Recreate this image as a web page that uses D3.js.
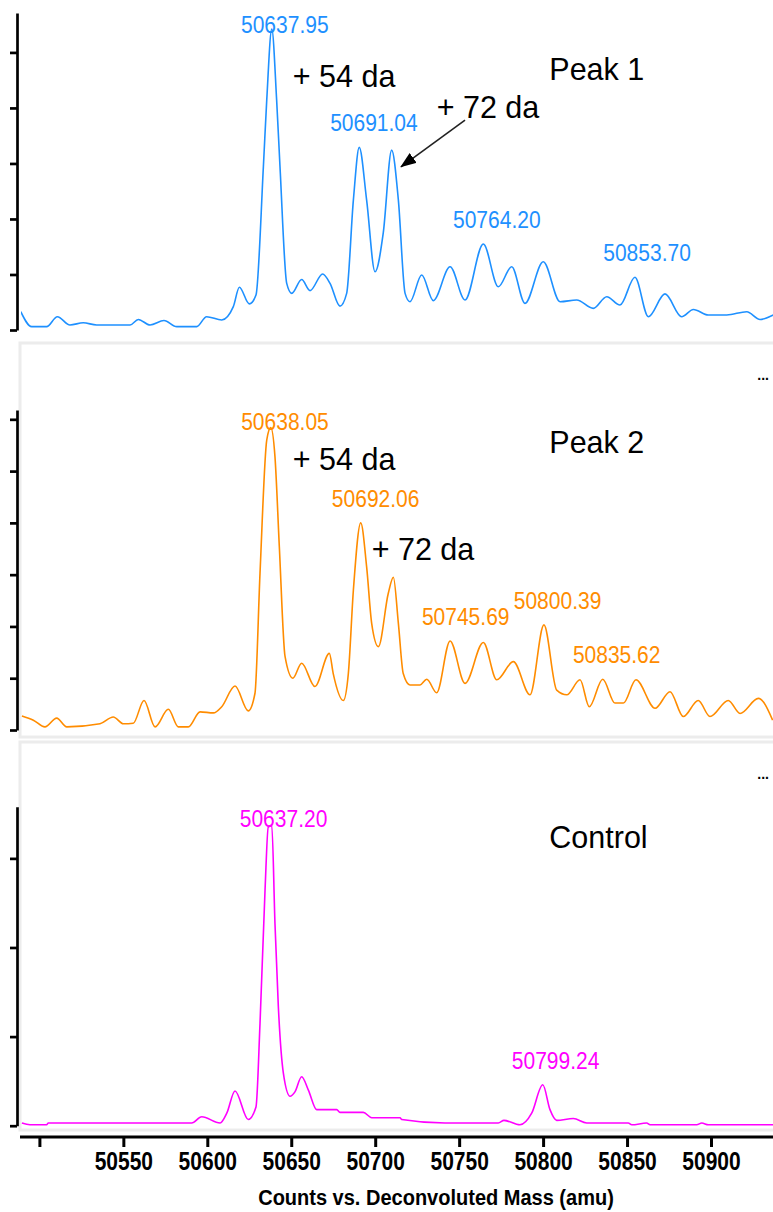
<!DOCTYPE html>
<html>
<head>
<meta charset="utf-8">
<script src="https://cdn.jsdelivr.net/npm/d3@7"></script>
<style>
  body { margin: 0; background: #fff; }
  text { font-family: "Liberation Sans", Arial, sans-serif; }
</style>
</head>
<body>
<div id="graph"></div>
<script>
// ---- data (mass in amu, intensity in tick units) ----
var peak1Mass = [50488.9,50495.4,50504.3,50510.7,50518.2,50526.1,50534.1,50554.0,50558.9,50565.9,50574.2,50581.8,50593.7,50599.6,50608.6,50615.5,50619.1,50625.0,50629.0,50633.4,50635.4,50638.4,50641.3,50643.3,50647.3,50650.3,50656.2,50661.2,50668.7,50673.1,50679.0,50683.0,50687.0,50690.5,50694.9,50699.9,50704.8,50709.8,50713.8,50717.8,50720.7,50727.7,50734.6,50744.6,50753.5,50764.4,50773.3,50781.3,50789.2,50800.1,50810.1,50820.0,50829.9,50837.9,50845.8,50854.7,50862.7,50872.6,50882.5,50889.5,50898.4,50909.4,50921.3,50929.2,50937.1];
var peak1Int  = [0.33,0.06,0.06,0.24,0.09,0.13,0.09,0.09,0.19,0.09,0.17,0.06,0.06,0.24,0.18,0.42,0.77,0.47,0.63,2.94,4.14,5.42,4.14,2.94,0.84,0.66,0.91,0.71,1.01,0.84,0.43,0.66,2.34,3.29,2.34,1.05,1.75,3.24,2.34,0.66,0.51,0.99,0.53,1.14,0.54,1.55,0.78,1.14,0.48,1.23,0.51,0.54,0.39,0.60,0.45,0.95,0.24,0.65,0.24,0.37,0.27,0.27,0.33,0.19,0.27];

var peak2Mass = [50489.6,50496.4,50503.3,50510.3,50516.3,50536.1,50544.0,50550.0,50555.9,50562.3,50568.9,50576.8,50582.7,50588.7,50595.7,50603.6,50608.6,50616.5,50624.4,50628.4,50631.4,50635.4,50637.8,50640.3,50642.9,50646.3,50650.9,50656.2,50664.1,50672.7,50675.0,50681.0,50684.0,50687.0,50691.4,50694.9,50697.9,50701.9,50707.8,50710.8,50713.8,50716.7,50720.7,50726.7,50730.7,50736.6,50744.6,50753.5,50764.4,50772.4,50782.3,50792.2,50800.5,50808.1,50814.1,50822.0,50827.5,50835.5,50842.8,50847.8,50855.3,50866.7,50875.6,50883.5,50892.4,50899.4,50910.3,50917.3,50928.2,50936.7];
var peak2Int  = [0.27,0.19,0.06,0.23,0.06,0.12,0.25,0.12,0.13,0.57,0.06,0.40,0.06,0.06,0.35,0.33,0.45,0.85,0.37,0.71,3.03,5.60,5.84,5.28,3.54,1.42,1.00,1.29,0.84,1.48,1.09,0.57,1.09,2.70,4.00,3.15,2.06,1.61,2.64,2.95,2.06,1.09,0.87,0.87,0.98,0.72,1.72,0.90,1.69,0.97,1.32,0.68,2.03,0.77,0.68,0.97,0.45,0.98,0.52,0.52,0.97,0.42,0.74,0.26,0.57,0.26,0.57,0.32,0.61,0.19];

var controlMass = [50489.6,50494.4,50504.3,50505.3,50590.7,50596.7,50607.6,50611.6,50616.5,50624.4,50629.0,50631.4,50634.4,50636.3,50638.4,50640.3,50642.3,50645.3,50649.3,50652.2,50656.2,50660.2,50665.2,50677.1,50679.0,50692.9,50697.9,50714.8,50715.8,50741.6,50773.3,50776.7,50786.2,50793.2,50799.8,50804.1,50808.1,50818.0,50826.0,50850.7,50852.8,50861.7,50863.7,50891.5,50894.5,50898.4,50937.1];
var controlInt  = [0.03,0.01,0.01,0.03,0.03,0.10,0.03,0.14,0.39,0.07,0.21,1.15,2.65,3.35,3.37,2.27,1.34,0.59,0.33,0.38,0.55,0.40,0.18,0.18,0.15,0.15,0.09,0.09,0.07,0.03,0.03,0.06,0.01,0.14,0.46,0.18,0.06,0.08,0.03,0.03,0.01,0.03,0.01,0.01,0.03,0.01,0.01];

var peak1Labels = ["50637.95", "50691.04", "50764.20", "50853.70"];
var peak2Labels = ["50638.05", "50692.06", "50745.69", "50800.39", "50835.62"];
var controlLabels = ["50637.20", "50799.24"];

var massTicks = [50500, 50550, 50600, 50650, 50700, 50750, 50800, 50850, 50900];

// annotations: [text, mass, intensity]
var peak1Notes = [["+ 54 da", 50650.9, 4.38], ["+ 72 da", 50736.6, 3.81], ["Peak 1", 50803.7, 4.50]];
var peak2Notes = [["+ 54 da", 50650.9, 5.03], ["+ 72 da", 50697.9, 3.28], ["Peak 2", 50803.7, 5.34]];
var controlNotes = [["Control", 50803.7, 3.12]];

// arrow in Peak 1 panel: [fromMass, fromInt, toMass, toInt]
var peak1Arrow = [50753.5, 3.78, 50715.4, 2.94];

var width = 773, height = 1212;

// stretch text vertically: measure at base size, then enlarge and squeeze back to that width
function tallText(sel, baseSize, bigSize) {
  sel.each(function() {
    var t = d3.select(this).style('font-size', baseSize + 'px');
    var w = this.getComputedTextLength();
    t.style('font-size', bigSize + 'px')
      .attr('textLength', w)
      .attr('lengthAdjust', 'spacingAndGlyphs');
  });
}

var svg = d3.select('#graph').html('')
  .append('svg')
    .attr('width', width)
    .attr('height', height);

svg.append('defs').append('marker')
    .attr('id', 'arrowhead')
    .attr('markerUnits', 'userSpaceOnUse')
    .attr('viewBox', '0 0 16 12')
    .attr('refX', 15).attr('refY', 6)
    .attr('markerWidth', 16).attr('markerHeight', 12)
    .attr('orient', 'auto')
  .append('path')
    .attr('d', 'M0,0 L16,6 L0,12 Z')
    .attr('fill', '#000');

svg.select('defs').append('clipPath').attr('id', 'plotclip')
  .append('rect').attr('x', 21).attr('y', 0).attr('width', 752).attr('height', height);

var x = d3.scaleLinear().domain([50500, 50900]).range([39.4, 711]);

var panels = [
  {mass: peak1Mass, inten: peak1Int, labels: peak1Labels, notes: peak1Notes, color: '#1e90ff',
   top: 13, bottom: 330, yMax: 5.71, frame: null},
  {mass: peak2Mass, inten: peak2Int, labels: peak2Labels, notes: peak2Notes, color: '#ff8c00',
   top: 410, bottom: 730, yMax: 6.18, frame: [343, 737]},
  {mass: controlMass, inten: controlInt, labels: controlLabels, notes: controlNotes, color: '#ff00ff',
   top: 806.7, bottom: 1125.7, yMax: 3.58, frame: [742, 1130]}
];

panels.forEach(function(p, i) {
  var g = svg.append('g');
  var y = d3.scaleLinear().domain([0, p.yMax]).range([p.bottom, p.top]);

  // light grey panel frame
  if (p.frame) {
    g.append('rect')
      .attr('x', 20).attr('y', p.frame[0])
      .attr('width', 770).attr('height', p.frame[1] - p.frame[0])
      .attr('fill', 'none').attr('stroke', '#ececec').attr('stroke-width', 3);
    g.append('text')
      .attr('x', 769).attr('y', p.frame[0] + 37)
      .attr('text-anchor', 'end')
      .style('font-size', '14px')
      .style('font-weight', 'bold')
      .text('...');
  }

  // y axis (no labels)
  var yAxis = g.append('g')
    .attr('transform', 'translate(17,0)')
    .call(d3.axisLeft(y).tickValues(d3.range(0, Math.floor(p.yMax) + 1)).tickSize(7).tickSizeOuter(0).tickFormat(''));
  yAxis.select('.domain').attr('stroke', '#000').attr('stroke-width', 2.7);
  yAxis.selectAll('.tick line').attr('stroke', '#000').attr('stroke-width', 2.7);

  // spectrum
  var pts = p.mass.map(function(m, k){ return [m, p.inten[k]]; });
  var line = d3.line()
    .x(function(d){ return x(d[0]); })
    .y(function(d){ return y(d[1]); })
    .curve(d3.curveMonotoneX);
  g.append('path')
    .datum(pts)
    .attr('clip-path', 'url(#plotclip)')
    .attr('d', line)
    .attr('fill', 'none')
    .attr('stroke', p.color)
    .attr('stroke-width', 1.6)
    .attr('stroke-linejoin', 'round');

  // peak mass labels
  g.selectAll('text.peaklabel')
    .data(p.labels)
    .enter()
    .append('text')
      .attr('class', 'peaklabel')
      .attr('x', function(d){ return x(+d) - 30; })
      .attr('y', function(d){
        var top = d3.max(pts.filter(function(q){ return Math.abs(q[0] - d) <= 3; }), function(q){ return q[1]; });
        return Math.max(y(top) - 16, p.top + 20);
      })
      .attr('fill', p.color)
      .text(function(d){ return d; })
      .call(tallText, 21, 23);

  // annotations
  g.selectAll('text.note')
    .data(p.notes)
    .enter()
    .append('text')
      .attr('class', 'note')
      .attr('x', function(d){ return x(d[1]); })
      .attr('y', function(d){ return y(d[2]); })
      .attr('fill', '#000')
      .text(function(d){ return d[0]; })
      .call(tallText, 30.5, 32);

  if (i === 0) {
    g.append('line')
      .attr('x1', x(peak1Arrow[0])).attr('y1', y(peak1Arrow[1]))
      .attr('x2', x(peak1Arrow[2])).attr('y2', y(peak1Arrow[3]))
      .attr('stroke', '#222').attr('stroke-width', 1.6)
      .attr('marker-end', 'url(#arrowhead)');
  }
});

// x axis
var axisY = 1137;
svg.append('line')
  .attr('x1', 20).attr('x2', 773)
  .attr('y1', axisY).attr('y2', axisY)
  .attr('stroke', '#000').attr('stroke-width', 3);

var xAxis = svg.append('g')
  .attr('transform', 'translate(0,' + axisY + ')')
  .call(d3.axisBottom(x).tickValues(massTicks).tickSize(10).tickSizeOuter(0)
    .tickFormat(function(d){ return d === 50500 ? '' : d; }));
xAxis.select('.domain').remove();
xAxis.selectAll('.tick line').attr('stroke', '#000').attr('stroke-width', 3);
xAxis.selectAll('.tick text')
  .attr('y', 33).attr('dy', 0)
  .attr('fill', '#000')
  .style('font-weight', 'bold')
  .style('font-family', '"Liberation Sans", Arial, sans-serif')
  .call(tallText, 21, 25);

svg.append('text')
  .attr('x', 436).attr('y', 1205)
  .attr('text-anchor', 'middle')
  .style('font-weight', 'bold')
  .text('Counts vs. Deconvoluted Mass (amu)')
  .call(tallText, 20, 22);
</script>
</body>
</html>
